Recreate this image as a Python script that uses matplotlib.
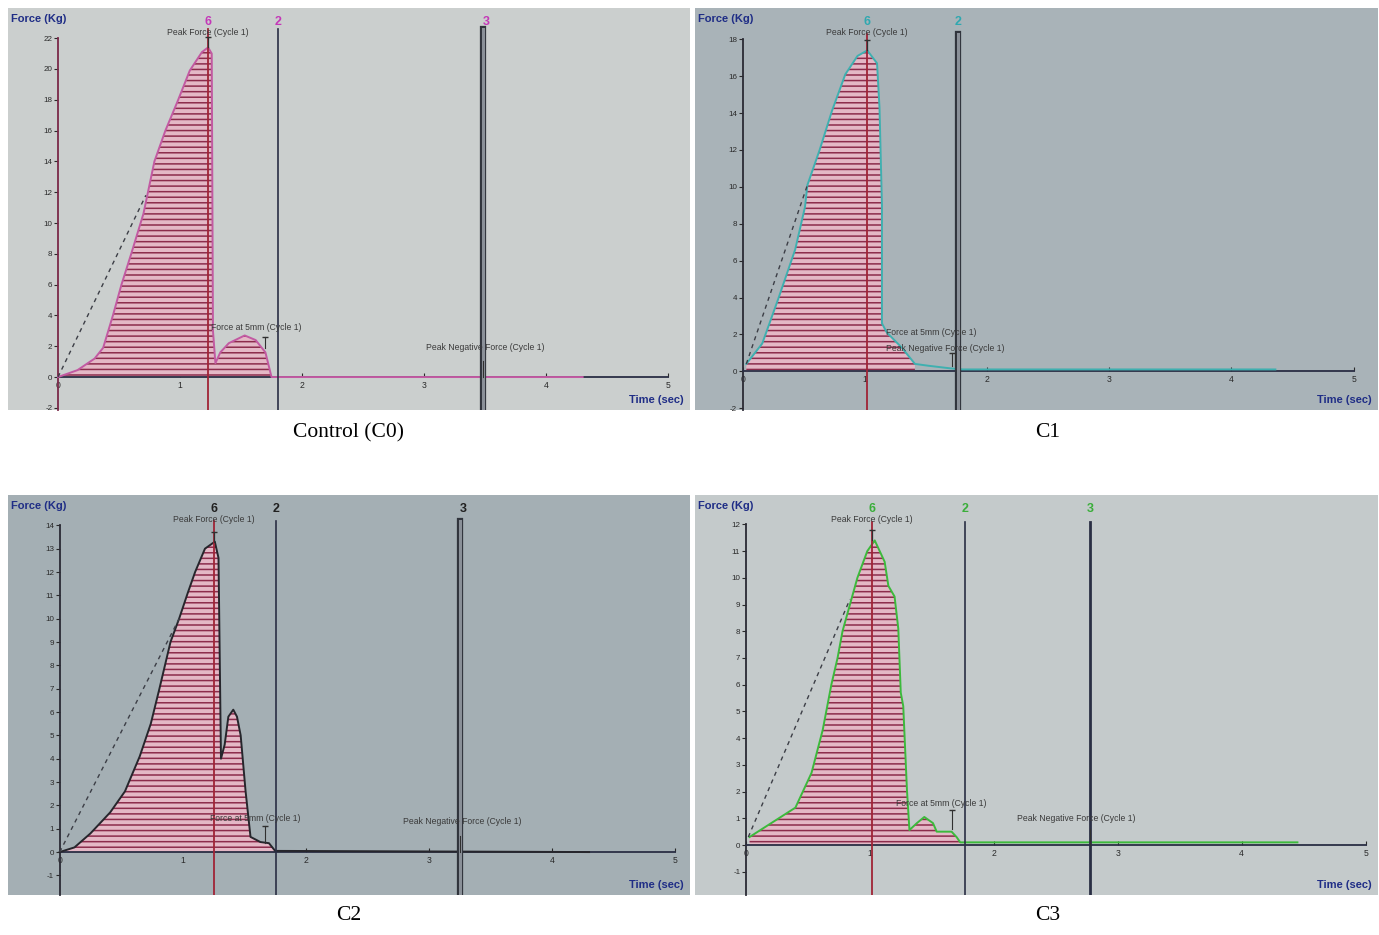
import numpy as np
import matplotlib.pyplot as plt

plt.rcParams['font.family'] = ['Liberation Sans', 'DejaVu Sans']
plt.rcParams['hatch.linewidth'] = 1.1

# Data read from the four texture-analyser screens (time in s, force in kg)
c0_t = [0.0, 0.16, 0.30, 0.37, 0.45, 0.52, 0.60, 0.70, 0.79, 0.88, 0.98, 1.08, 1.18, 1.23,
        1.26, 1.27, 1.29, 1.33, 1.40, 1.53, 1.62, 1.70, 1.75, 4.30]
c0_f = [0.0, 0.45, 1.2, 1.9, 4.0, 6.0, 8.0, 10.6, 14.0, 16.0, 17.9, 19.9, 21.1, 21.4,
        21.0, 3.0, 0.9, 1.6, 2.2, 2.7, 2.4, 1.6, 0.0, 0.0]

c1_t = [0.03, 0.16, 0.29, 0.43, 0.51, 0.53, 0.63, 0.73, 0.84, 0.94, 1.02, 1.10, 1.12, 1.14,
        1.14, 1.18, 1.30, 1.41, 1.52, 1.71, 1.80, 4.36]
c1_f = [0.4, 1.5, 3.9, 6.6, 8.9, 10.1, 12.0, 14.1, 16.1, 17.1, 17.4, 16.7, 14.3, 9.0,
        2.6, 2.1, 1.3, 0.4, 0.3, 0.15, 0.1, 0.1]

c2_t = [0.0, 0.12, 0.25, 0.41, 0.53, 0.65, 0.74, 0.81, 0.90, 0.97, 1.04, 1.10, 1.18, 1.26,
        1.29, 1.31, 1.34, 1.37, 1.41, 1.44, 1.47, 1.51, 1.55, 1.63, 1.70, 1.75, 4.30]
c2_f = [0.0, 0.2, 0.8, 1.7, 2.6, 4.1, 5.5, 7.0, 9.0, 10.0, 11.1, 12.0, 13.0, 13.3,
        12.6, 4.0, 4.6, 5.8, 6.1, 5.8, 5.0, 2.6, 0.65, 0.43, 0.38, 0.05, 0.0]

c3_t = [0.03, 0.40, 0.53, 0.62, 0.69, 0.74, 0.78, 0.84, 0.90, 0.98, 1.04, 1.12, 1.15, 1.20,
        1.23, 1.25, 1.27, 1.30, 1.32, 1.38, 1.44, 1.51, 1.54, 1.66, 1.70, 1.73, 4.45]
c3_f = [0.3, 1.4, 2.7, 4.3, 6.0, 7.0, 8.0, 9.0, 10.0, 11.0, 11.4, 10.6, 9.7, 9.3,
        8.1, 5.7, 5.2, 2.05, 0.56, 0.82, 1.05, 0.82, 0.5, 0.5, 0.3, 0.1, 0.1]

# dashed "gradient" line: start and end points
c0_dash = ([0.0, 0.72], [0.0, 11.8])
c1_dash = ([0.03, 0.53], [0.4, 10.1])
c2_dash = ([0.0, 0.98], [0.0, 10.1])
c3_dash = ([0.02, 0.84], [0.3, 9.2])

# marker positions: peak (6), 2, 3
c0_marks = [1.23, 1.80, 3.48]
c1_marks = [1.02, 1.76, 1.76]
c2_marks = [1.25, 1.76, 3.25]
c3_marks = [1.02, 1.77, 2.78]

c0_yticks = list(range(-2, 23, 2))
c1_yticks = list(range(-2, 19, 2))
c2_yticks = list(range(-1, 15, 1))
c3_yticks = list(range(-1, 13, 1))
x_ticks = [0, 1, 2, 3, 4, 5]

captions = ["Control (C0)", "C1", "C2", "C3"]

PANELS = [
    dict(t=c0_t, f=c0_f, dash=c0_dash, marks=c0_marks, yticks=c0_yticks,
         xlim=(-0.41, 5.18), ylim=(-2.14, 23.96), vtop=22.6,
         line="#c25aa2", label_col="#c438b8", yaxis_col="#7a2848", face="#cbcfce",
         fill_end=1.75, neg=(3.50, 1.9), f5=(1.25, 3.2), f5_tick=(1.70, 1.9, 2.6),
         double3=True, cap=captions[0], cap_xy=(0.253, 0.527),
         rect=[8 / 1379, 1 - 410 / 935, 682 / 1379, 402 / 935]),
    dict(t=c1_t, f=c1_f, dash=c1_dash, marks=c1_marks, yticks=c1_yticks,
         xlim=(-0.39, 5.2), ylim=(-2.1, 19.7), vtop=18.3,
         line="#3fb0b0", label_col="#2fa8b0", yaxis_col="#2a2a34", face="#a9b3b8",
         fill_end=1.45, neg=(1.17, 1.25), f5=(1.17, 2.1), f5_tick=(1.71, 0.3, 1.0),
         double3=True, cap=captions[1], cap_xy=(0.760, 0.527),
         rect=[695 / 1379, 1 - 410 / 935, 683 / 1379, 402 / 935]),
    dict(t=c2_t, f=c2_f, dash=c2_dash, marks=c2_marks, yticks=c2_yticks,
         xlim=(-0.42, 5.12), ylim=(-1.84, 15.3), vtop=14.2,
         line="#26262c", label_col="#202020", yaxis_col="#2a2a34", face="#a4afb4",
         fill_end=1.75, neg=(3.27, 1.3), f5=(1.22, 1.45), f5_tick=(1.67, 0.4, 1.1),
         double3=True, cap=captions[2], cap_xy=(0.253, 0.011),
         rect=[8 / 1379, 1 - 895 / 935, 682 / 1379, 400 / 935]),
    dict(t=c3_t, f=c3_f, dash=c3_dash, marks=c3_marks, yticks=c3_yticks,
         xlim=(-0.41, 5.1), ylim=(-1.87, 13.1), vtop=12.1,
         line="#3cba3c", label_col="#3aae3a", yaxis_col="#2a2a34", face="#c4cacb",
         fill_end=1.73, neg=(2.19, 1.0), f5=(1.21, 1.57), f5_tick=(1.66, 0.6, 1.3),
         double3=False, cap=captions[3], cap_xy=(0.760, 0.011),
         rect=[695 / 1379, 1 - 895 / 935, 683 / 1379, 400 / 935]),
]


def draw_panel(fig, p):
    ax = fig.add_axes(p["rect"])
    ax.set_facecolor(p["face"])
    ax.set_xlim(*p["xlim"])
    ax.set_ylim(*p["ylim"])

    t = np.array(p["t"])
    f = np.array(p["f"])
    dark = "#2a2e44"
    txt = "#3a3a3a"

    # hatched area under the curve
    m = t <= p["fill_end"] + 1e-9
    ax.fill_between(t[m], 0, f[m], facecolor="#e4b8c6", edgecolor="#8c2c4c",
                    hatch="---", linewidth=0, zorder=2)

    # the force trace
    ax.plot(t, f, color=p["line"], lw=1.4, zorder=4)
    ax.plot(*p["dash"], color="#3c3e46", lw=1.0, ls=(0, (3, 3)), zorder=4)

    # vertical markers
    y0 = p["ylim"][0]
    pk, m2, m3 = p["marks"]
    ax.plot([pk, pk], [y0, p["vtop"]], color="#a02436", lw=1.3, zorder=5)
    ax.plot([m2, m2], [y0, p["vtop"]], color=dark, lw=1.2, zorder=5)
    if p["double3"]:
        ax.plot([m3, m3], [y0, p["vtop"]], color="#30343c", lw=4.5, zorder=5)
        ax.plot([m3, m3], [y0, p["vtop"]], color="#8a9098", lw=2.2, zorder=6)
    else:
        ax.plot([m3, m3], [y0, p["vtop"]], color=dark, lw=2.0, zorder=5)

    span = p["ylim"][1] - p["ylim"][0]
    lab_y = p["ylim"][1] - 0.035 * span
    ax.text(pk, lab_y, "6", color=p["label_col"], fontsize=9, fontweight="bold",
            ha="center", va="center", zorder=7)
    ax.text(m2, lab_y, "2", color=p["label_col"], fontsize=9, fontweight="bold",
            ha="center", va="center", zorder=7)
    if m3 != m2:
        ax.text(m3 + (0.03 if p["double3"] else 0), lab_y, "3", color=p["label_col"],
                fontsize=9, fontweight="bold", ha="center", va="center", zorder=7)

    # peak force annotation
    pf = f.max()
    ax.plot([pk, pk], [pf, pf + 0.025 * span], color="#303030", lw=0.9, zorder=6)
    ax.plot(pk, pf + 0.025 * span, marker="_", ms=5, color="#303030", zorder=6)
    ax.text(pk, p["ylim"][1] - 0.06 * span, "Peak Force (Cycle 1)", color=txt,
            fontsize=6.2, ha="center", va="center", zorder=7)

    # force at 5 mm and peak negative force annotations
    ft, fl, fh = p["f5_tick"]
    ax.plot([ft, ft], [fl, fh], color="#303030", lw=0.8, zorder=6)
    ax.plot(ft, fh, marker="_", ms=4, color="#303030", zorder=6)
    ax.text(p["f5"][0], p["f5"][1], "Force at 5mm (Cycle 1)", color=txt,
            fontsize=6.2, ha="left", va="center", zorder=7)
    if p["neg"][0] > 2:
        ax.text(p["neg"][0], p["neg"][1], "Peak Negative Force (Cycle 1)", color=txt,
                fontsize=6.2, ha="center" if p["neg"][0] > 3 else "left", va="center", zorder=7)
        ax.plot([m3, m3], [0, 0.04 * span], color="#303030", lw=0.8, zorder=6)
    else:
        ax.text(p["neg"][0], p["neg"][1], "Peak Negative Force (Cycle 1)", color=txt,
                fontsize=6.2, ha="left", va="center", zorder=7)
        ax.plot([ft + 0.03, ft + 0.03], [fl, fh], color="#303030", lw=0.8, zorder=6)

    # axes drawn through the origin like the instrument screen
    for s in ["top", "right"]:
        ax.spines[s].set_visible(False)
    ax.spines["left"].set_position(("data", 0))
    ax.spines["bottom"].set_position(("data", 0))
    ax.spines["left"].set_bounds(p["ylim"][0], p["yticks"][-1])
    ax.spines["bottom"].set_bounds(0, 5)
    ax.spines["left"].set_color(p["yaxis_col"])
    ax.spines["bottom"].set_color(dark)
    ax.spines["left"].set_linewidth(1.3)
    ax.spines["bottom"].set_linewidth(1.3)
    ax.spines["left"].set_zorder(3)
    ax.spines["bottom"].set_zorder(3)

    ax.set_yticks(p["yticks"])
    ax.set_yticklabels([str(v) for v in p["yticks"]])
    ax.set_xticks(x_ticks)
    ax.set_xticklabels([str(v) for v in x_ticks])
    ax.tick_params(axis="y", direction="out", length=3, width=0.8, labelsize=5.8,
                   colors="#2a2a2a", pad=1)
    ax.tick_params(axis="x", direction="in", length=3, width=0.8, labelsize=6.2,
                   colors="#2a2a2a", pad=3)

    ax.text(0.004, 0.985, "Force (Kg)", transform=ax.transAxes, color="#1f2d86",
            fontsize=8, fontweight="bold", ha="left", va="top")
    ax.text(0.99, 0.012, "Time (sec)", transform=ax.transAxes, color="#1f2d86",
            fontsize=8, fontweight="bold", ha="right", va="bottom")

    fig.text(p["cap_xy"][0], p["cap_xy"][1], p["cap"], fontsize=15.5,
             family=["Liberation Serif", "DejaVu Serif"], ha="center", va="bottom")
    return ax


fig = plt.figure(figsize=(13.79, 9.35), dpi=100)
fig.patch.set_facecolor("white")
for p in PANELS:
    draw_panel(fig, p)

fig.savefig("out.png", dpi=100)
